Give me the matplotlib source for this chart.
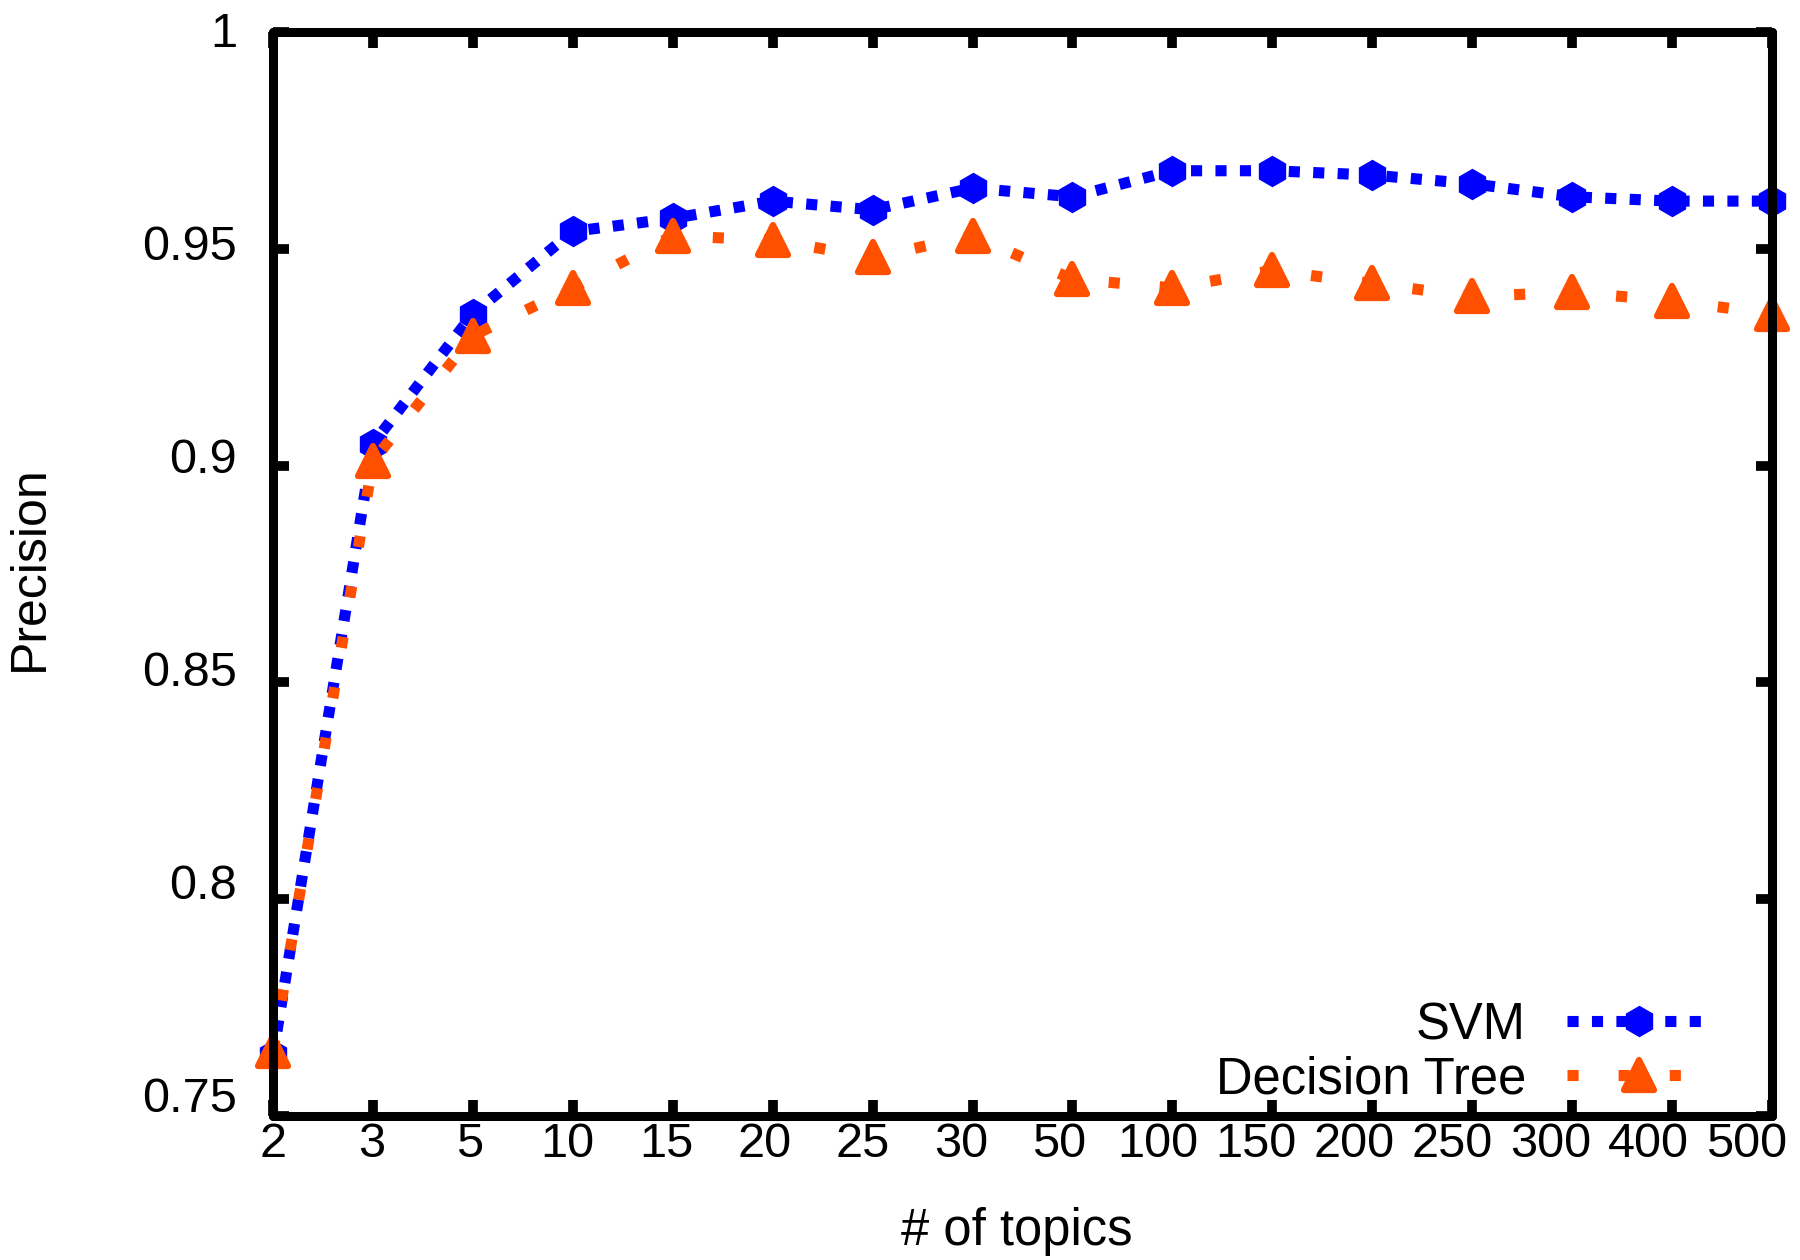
import matplotlib
matplotlib.use('Agg')
import matplotlib.pyplot as plt
from matplotlib.markers import MarkerStyle
from matplotlib.transforms import ScaledTranslation

topics = ['2', '3', '5', '10', '15', '20', '25', '30', '50', '100',
          '150', '200', '250', '300', '400', '500']
svm = [0.764, 0.905, 0.935, 0.954, 0.957, 0.961, 0.959, 0.964, 0.962, 0.968,
       0.968, 0.967, 0.965, 0.962, 0.961, 0.961]
dt = [0.765, 0.901, 0.930, 0.941, 0.953, 0.952, 0.948, 0.953, 0.943, 0.941,
      0.945, 0.942, 0.939, 0.940, 0.938, 0.935]
yticks = [0.75, 0.8, 0.85, 0.9, 0.95, 1.0]
ytick_labels = ['0.75', '0.8', '0.85', '0.9', '0.95', '1']

plt.rcParams['font.family'] = ['Liberation Sans', 'DejaVu Sans']

fig = plt.figure(figsize=(18, 12.6), dpi=100)
ax = fig.add_axes([273 / 1800, 144 / 1260, 1499 / 1800, 1084 / 1260])

x = list(range(len(topics)))
l1, = ax.plot(x, svm, color='#0000ff', lw=8, marker='h', ms=21, mew=1.5,
              label='SVM', clip_on=False)
l1.set_dashes([1.0, 1.2])
tri = MarkerStyle('^', joinstyle='round')
l2, = ax.plot(x, dt, color='#ff5000', lw=8, marker=tri, ms=21, mew=4.5,
              label='Decision Tree', clip_on=False)
l2.set_dashes([1.0, 3.6])

ax.set_xlim(0, len(topics) - 1)
ax.set_ylim(0.75, 1.0)
ax.set_xticks(x, labels=topics)
ax.set_yticks(yticks, labels=ytick_labels)

ax.tick_params(axis='both', which='major', direction='in', length=11.5,
               width=7, top=True, right=True, labelsize=35, color='black')
ax.tick_params(axis='x', pad=4)
ax.tick_params(axis='y', pad=26)

for sp in ax.spines.values():
    sp.set_linewidth(6.5)
    sp.set_capstyle('round')

n = len(topics)
for i, lab in enumerate(ax.get_xticklabels()):
    dx = -25.0 * i / (n - 1)
    lab.set_transform(lab.get_transform() +
                      ScaledTranslation(dx / 100, 0, fig.dpi_scale_trans))
for v, lab in zip(yticks, ax.get_yticklabels()):
    dy = 2.5 + (1.0 - v) / 0.25 * 18.5
    lab.set_transform(lab.get_transform() +
                      ScaledTranslation(0, dy / 100, fig.dpi_scale_trans))

ax.set_xlabel('# of topics', fontsize=36.5)
ax.xaxis.set_label_coords(0.496, -0.084)
ax.set_ylabel('Precision', fontsize=36)
ax.yaxis.set_label_coords(-0.147, 0.505)

leg = ax.legend(loc='lower right', bbox_to_anchor=(0.9593, 0.011),
                markerfirst=False, frameon=False, fontsize=36.5,
                handlelength=2.85, handletextpad=0.8, labelspacing=0.1,
                borderpad=0, borderaxespad=0, numpoints=1)

fig.savefig('out.png', dpi=100)
